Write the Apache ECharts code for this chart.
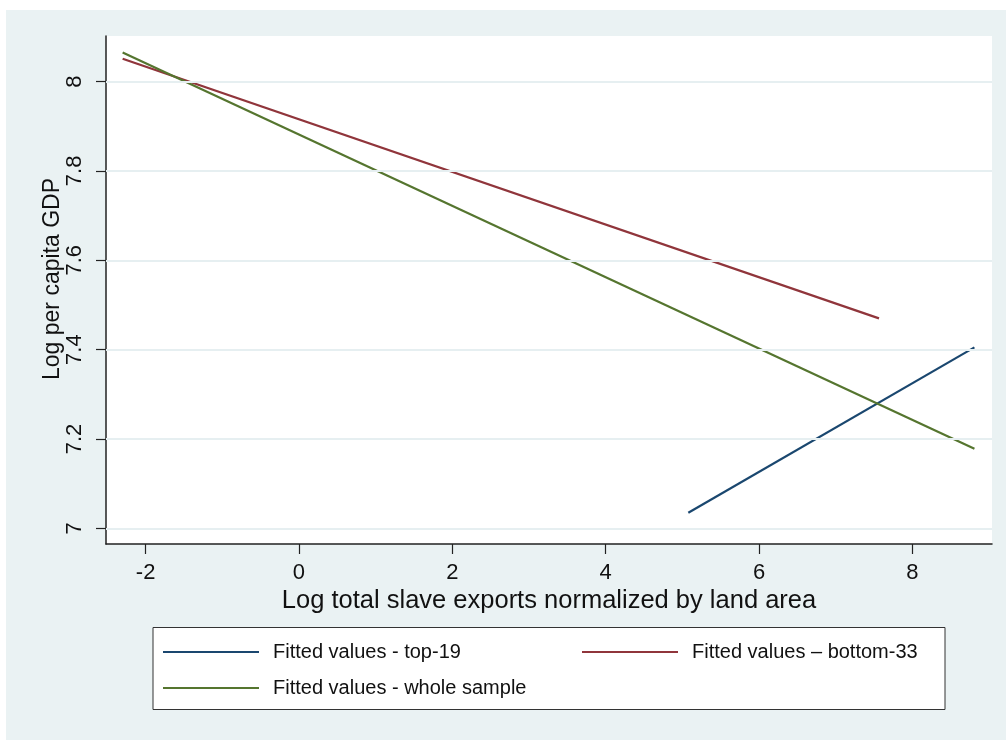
<!DOCTYPE html>
<html>
<head>
<meta charset="utf-8">
<script src="https://cdn.jsdelivr.net/npm/echarts@6/dist/echarts.min.js"></script>
<style>html,body{margin:0;padding:0;background:#fff;}#c{width:1006px;height:740px;}</style>
</head>
<body>
<div id="c"></div>
<script>
// Data
const seriesNames = ['Fitted values - top-19', 'Fitted values \u2013 bottom-33', 'Fitted values - whole sample'];
const top19X = [5.078, 8.81];
const top19Y = [7.035, 7.405];
const bottom33X = [-2.30, 7.565];
const bottom33Y = [8.051, 7.470];
const wholeX = [-2.30, 8.81];
const wholeY = [8.065, 7.178];
const xTicks = [-2, 0, 2, 4, 6, 8];
const yTicks = [7, 7.2, 7.4, 7.6, 7.8, 8];
const xRange = [-2.517, 9.039];
const yRange = [6.965, 8.102];

const FONT = 'Liberation Sans, Arial, Helvetica, sans-serif';
const pairs = (xs, ys) => xs.map((x, i) => [x, ys[i]]);

const chart = echarts.init(document.getElementById('c'), null, {renderer: 'canvas'});
chart.setOption({
  backgroundColor: '#ffffff',
  animation: false,
  graphic: [
    {type: 'rect', z: -100, shape: {x: 6, y: 10, width: 1000, height: 730}, style: {fill: '#eaf2f3'}, silent: true},
    {type: 'rect', z: -50, shape: {x: 153, y: 627.5, width: 792, height: 82}, style: {fill: '#ffffff', stroke: '#333333', lineWidth: 1}, silent: true}
  ],
  grid: {left: 106, top: 36, right: 14, bottom: 196, show: true, backgroundColor: '#ffffff', borderWidth: 0},
  xAxis: {
    type: 'value', min: xRange[0], max: xRange[1],
    axisLine: {show: true, onZero: false, lineStyle: {color: '#222', width: 1.5}},
    axisTick: {show: true, length: 10, customValues: xTicks, lineStyle: {color: '#222', width: 1.2}},
    axisLabel: {customValues: xTicks, fontSize: 22, color: '#111', fontFamily: FONT, margin: 18},
    splitLine: {show: false},
    name: 'Log total slave exports normalized by land area',
    nameLocation: 'middle', nameGap: 44, nameMoveOverlap: false,
    nameTextStyle: {fontSize: 25.5, color: '#111', fontFamily: FONT}
  },
  yAxis: {
    type: 'value', min: yRange[0], max: yRange[1],
    axisLine: {show: true, onZero: false, lineStyle: {color: '#222', width: 1.5}},
    axisTick: {show: true, length: 10, customValues: yTicks, lineStyle: {color: '#222', width: 1.2}},
    axisLabel: {customValues: yTicks, fontSize: 22, color: '#111', fontFamily: FONT, rotate: 90, margin: 20},
    splitLine: {show: false},
    name: 'Log per capita GDP',
    nameLocation: 'middle', nameGap: 42, nameMoveOverlap: false,
    nameTextStyle: {fontSize: 23, color: '#111', fontFamily: FONT, padding: [0, 0, 0, 22]}
  },
  legend: [0, 1, 2].map(i => ({
    data: [seriesNames[i]],
    left: [163, 582, 163][i],
    top: [642, 642, 678][i],
    padding: 0,
    icon: 'rect',
    itemWidth: 96, itemHeight: 2.2,
    selectedMode: false,
    textStyle: {fontSize: 20, color: '#111', fontFamily: FONT, padding: [0, 0, 0, 9], lineHeight: 20}
  })),
  series: [
    {
      name: 'grid', type: 'line', data: [], silent: true, z: 1,
      markLine: {
        silent: true, symbol: 'none', animation: false,
        label: {show: false},
        lineStyle: {color: '#e6eff1', width: 2, type: 'solid'},
        data: yTicks.map(v => ({yAxis: v}))
      }
    },
    {name: seriesNames[0], type: 'line', data: pairs(top19X, top19Y), showSymbol: false, symbol: 'none', z: 3,
     lineStyle: {color: '#1a476f', width: 2.2}, itemStyle: {color: '#1a476f'}},
    {name: seriesNames[1], type: 'line', data: pairs(bottom33X, bottom33Y), showSymbol: false, symbol: 'none', z: 3,
     lineStyle: {color: '#90353b', width: 2.2}, itemStyle: {color: '#90353b'}},
    {name: seriesNames[2], type: 'line', data: pairs(wholeX, wholeY), showSymbol: false, symbol: 'none', z: 3,
     lineStyle: {color: '#55752f', width: 2.2}, itemStyle: {color: '#55752f'}}
  ]
});
</script>
</body>
</html>
